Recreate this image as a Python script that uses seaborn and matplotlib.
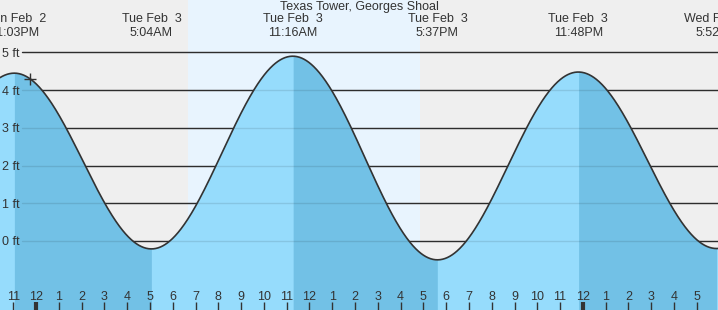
import numpy as np
import pandas as pd
import matplotlib
matplotlib.use("Agg")
import matplotlib.pyplot as plt
import seaborn as sns

# ---------------- data ----------------
title = "Texas Tower, Georges Shoal"
# tide events, hours relative to Tue Feb 3 00:00 (first/last are off-chart neighbours)
event_hours = [-7.2, -0.95, 5.067, 11.267, 17.617, 23.8, 29.867, 36.0]
event_heights = [-0.3, 4.45, -0.21, 4.9, -0.5, 4.48, -0.2, 4.4]
event_day_labels = ["", "Mon Feb  2", "Tue Feb  3", "Tue Feb  3", "Tue Feb  3", "Tue Feb  3", "Wed Feb  4", ""]
event_time_labels = ["", "11:03PM", "5:04AM", "11:16AM", "5:37PM", "11:48PM", "5:52AM", ""]
daylight_hours = [6.67, 16.85]
now_hour = -0.26
y_ticks = [0, 1, 2, 3, 4, 5]
y_tick_labels = ["0 ft", "1 ft", "2 ft", "3 ft", "4 ft", "5 ft"]
hour_ticks = list(range(-1, 30))
hour_labels = ["11", "12", "1", "2", "3", "4", "5", "6", "7", "8", "9", "10", "11",
               "12", "1", "2", "3", "4", "5", "6", "7", "8", "9", "10", "11",
               "12", "1", "2", "3", "4", "5"]
midnight_hours = [0, 24]

# ---------------- style ----------------
sns.set_style("white")
plt.rcParams["font.family"] = ["Liberation Sans", "DejaVu Sans"]

X0, X1 = -1.58, 29.93
Y0, Y1 = -1.83, 6.39
night_col = "#efefef"
day_col = "#e8f4fe"
fill_light = "#96dcfc"
fill_dark = "#72c1e6"
ink = "#333333"
FS = 9


def tide_curve(t):
    t = np.asarray(t, dtype=float)
    eh = np.array(event_hours)
    ev = np.array(event_heights)
    idx = np.clip(np.searchsorted(eh, t) - 1, 0, len(eh) - 2)
    t0, t1 = eh[idx], eh[idx + 1]
    v0, v1 = ev[idx], ev[idx + 1]
    ph = (t - t0) / (t1 - t0) * np.pi
    return v1 + (v0 - v1) * (1 + np.cos(ph)) / 2


t = np.linspace(X0, X1, 1500)
df = pd.DataFrame({"hour": t, "height": tide_curve(t)})

fig = plt.figure(figsize=(7.18, 3.10), dpi=100)
ax = fig.add_axes([0, 0, 1, 1])
ax.set_xlim(X0, X1)
ax.set_ylim(Y0, Y1)
ax.set_facecolor(night_col)
for s in ax.spines.values():
    s.set_visible(False)

ax.axvspan(daylight_hours[0], daylight_hours[1], color=day_col, zorder=0, lw=0)

# grid lines (beneath fill)
for y in y_ticks:
    ax.axhline(y, xmin=22 / 718, xmax=1, color=ink, lw=1.0, zorder=1)

# fills: light for rising, dark for falling
ax.fill_between(df["hour"], df["height"], Y0, color=fill_light, lw=0, zorder=2)
for i in range(len(event_hours) - 1):
    if event_heights[i] > event_heights[i + 1]:
        m = (df["hour"] >= event_hours[i]) & (df["hour"] <= event_hours[i + 1])
        if m.any():
            ax.fill_between(df["hour"][m], df["height"][m], Y0, color=fill_dark, lw=0, zorder=2)

# faint grid over fill
for y in y_ticks:
    ax.axhline(y, xmin=22 / 718, xmax=1, color=(0, 0, 0, 0.10), lw=1.0, zorder=3)

sns.lineplot(data=df, x="hour", y="height", ax=ax, color=ink, lw=1.2, zorder=4)
ax.set_xlabel("")
ax.set_ylabel("")

# current-time marker
ax.plot([now_hour], [tide_curve([now_hour])[0]], marker="+", ms=9, mew=1.0, color=ink, zorder=5)

# y ticks inside
ax.set_yticks(y_ticks)
ax.set_yticklabels(y_tick_labels)
ax.tick_params(axis="y", left=False, direction="in", length=0, pad=-1.5, labelsize=FS, labelcolor=ink)
plt.setp(ax.get_yticklabels(), ha="left")

# x ticks inside
ax.set_xticks(hour_ticks)
ax.set_xticklabels(hour_labels)
ax.tick_params(axis="x", bottom=True, direction="in", length=5.8, width=1.0, color=ink, pad=-14.0,
               labelsize=FS, labelcolor=ink)
for tk, h in zip(ax.xaxis.get_major_ticks(), hour_ticks):
    if h in midnight_hours:
        tk.tick1line.set_markeredgewidth(3)
ax.set_axisbelow(False)
ax.xaxis.set_zorder(6)
ax.yaxis.set_zorder(6)

# event labels
tr = ax.get_xaxis_transform()
for h, d, tm in zip(event_hours, event_day_labels, event_time_labels):
    if d:
        ax.text(h, 1 - 19.5 / 310, d, transform=tr, ha="center", va="center", fontsize=FS, color=ink)
        ax.text(h, 1 - 32.5 / 310, tm, transform=tr, ha="center", va="center", fontsize=FS, color=ink)

ax.text(0.5, 1 - 7 / 310, title, transform=ax.transAxes, ha="center", va="center", fontsize=FS, color=ink)

fig.savefig("out.png", dpi=100)
